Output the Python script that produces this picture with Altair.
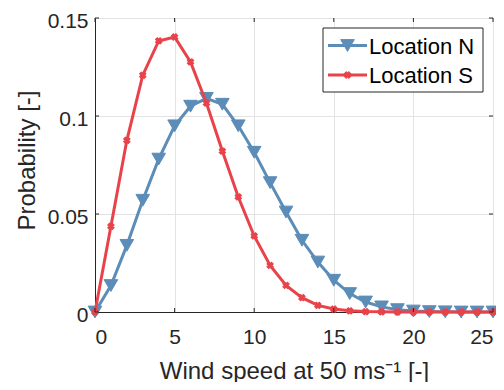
import altair as alt
import pandas as pd

# ---- data ----
wind_speed = list(range(26))
loc_n = [0, 0.0135, 0.034, 0.057, 0.078, 0.095, 0.105, 0.109, 0.106, 0.095,
         0.0815, 0.066, 0.051, 0.0366, 0.0255, 0.0162, 0.0094, 0.0051, 0.0026,
         0.0012, 0.0005, 0.0002, 0.0001, 0, 0, 0]
loc_s = [0, 0.0437, 0.0876, 0.1208, 0.1383, 0.1403, 0.1276, 0.1066, 0.0821,
         0.0587, 0.0388, 0.0238, 0.0136, 0.0073, 0.0034, 0.0015, 0.0006,
         0.0002, 0.0001, 0, 0, 0, 0, 0, 0, 0]
series_names = ["Location N", "Location S"]
x_ticks = [0, 5, 10, 15, 20, 25]
y_ticks = [0, 0.05, 0.1, 0.15]

# ---- style ----
W, H = 398, 294
FONT = "Liberation Sans"
DARK = "#262626"
colors = ["#5B8DB8", "#E8434A"]
shapes = ["triangle-down", "cross"]
sizes = [185, 42]
angles = [0, 45]

xs = alt.Scale(domain=[0, 25], nice=False, zero=False)
ys = alt.Scale(domain=[0, 0.15], nice=False, zero=False)

x_axis = alt.Axis(values=x_ticks, title="Wind speed at 50 ms\u207b\u00b9 [-]",
                  labelFontSize=21, titleFontSize=24, ticks=False,
                  labelPadding=14, titleY=66, titleBaseline="alphabetic",
                  grid=True)
y_axis = alt.Axis(values=y_ticks, title="Probability [-]", format=".2~f",
                  labelFontSize=21, titleFontSize=24, ticks=False,
                  labelPadding=7, labelOffset=3, titleX=-61, titleY=142,
                  titleBaseline="alphabetic", grid=True)


def X(field):
    return alt.X(field, scale=xs, axis=x_axis)


def Y(field):
    return alt.Y(field, scale=ys, axis=y_axis)


layers = []

for i, (name, vals) in enumerate(zip(series_names, [loc_n, loc_s])):
    d = pd.DataFrame({"ws": wind_speed, "p": vals})
    line = alt.Chart(d).mark_line(color=colors[i], strokeWidth=3, clip=False).encode(
        x=X("ws:Q"), y=Y("p:Q"))
    pts = alt.Chart(d).mark_point(shape=shapes[i], size=sizes[i], filled=True,
                                  opacity=1, color=colors[i], angle=angles[i],
                                  stroke=colors[i], strokeWidth=1).encode(
        x=X("ws:Q"), y=Y("p:Q"))
    layers += [line, pts]

# inward tick marks (MATLAB style box)
xt = pd.DataFrame({"ws": x_ticks})
yt = pd.DataFrame({"p": y_ticks})
tick_len = 4
for y0, y1 in [(H, H - tick_len), (0, tick_len)]:
    layers.append(alt.Chart(xt).mark_rule(color=DARK, strokeWidth=1).encode(
        x=X("ws:Q"), y=alt.value(y0), y2=alt.value(y1)))
for x0, x1 in [(0, tick_len), (W, W - tick_len)]:
    layers.append(alt.Chart(yt).mark_rule(color=DARK, strokeWidth=1).encode(
        y=Y("p:Q"), x=alt.value(x0), x2=alt.value(x1)))

# legend
one = pd.DataFrame({"a": [0]})
layers.append(alt.Chart(one).mark_rect(fill="white", stroke=DARK, strokeWidth=1).encode(
    x=alt.value(228), x2=alt.value(388), y=alt.value(10), y2=alt.value(74)))
row_y = [27.5, 57]
for i, name in enumerate(series_names):
    ld = pd.DataFrame({"label": [name]})
    layers.append(alt.Chart(ld).mark_rule(color=colors[i], strokeWidth=3).encode(
        x=alt.value(233), x2=alt.value(272), y=alt.value(row_y[i])))
    layers.append(alt.Chart(ld).mark_point(shape=shapes[i], size=sizes[i], filled=True,
                                           opacity=1, color=colors[i], angle=angles[i],
                                           stroke=colors[i], strokeWidth=1).encode(
        x=alt.value(252.5), y=alt.value(row_y[i])))
    layers.append(alt.Chart(ld).mark_text(align="left", baseline="middle", fontSize=22,
                                          font=FONT, color="black", dy=1).encode(
        x=alt.value(274), y=alt.value(row_y[i]), text="label:N"))

chart = alt.layer(*layers).properties(
    width=W, height=H,
    padding={"left": 87, "top": 10, "right": 3, "bottom": 70},
    autosize=alt.AutoSizeParams(type="none"),
).configure_view(
    stroke=DARK, strokeWidth=1
).configure_axis(
    labelFont=FONT, titleFont=FONT, labelColor=DARK, titleColor=DARK,
    domainColor=DARK, domainWidth=1, gridColor="#E3E3E3", gridWidth=1,
    titleFontWeight="normal",
)

chart.save("out.html", embed_options={"renderer": "svg", "actions": False})
